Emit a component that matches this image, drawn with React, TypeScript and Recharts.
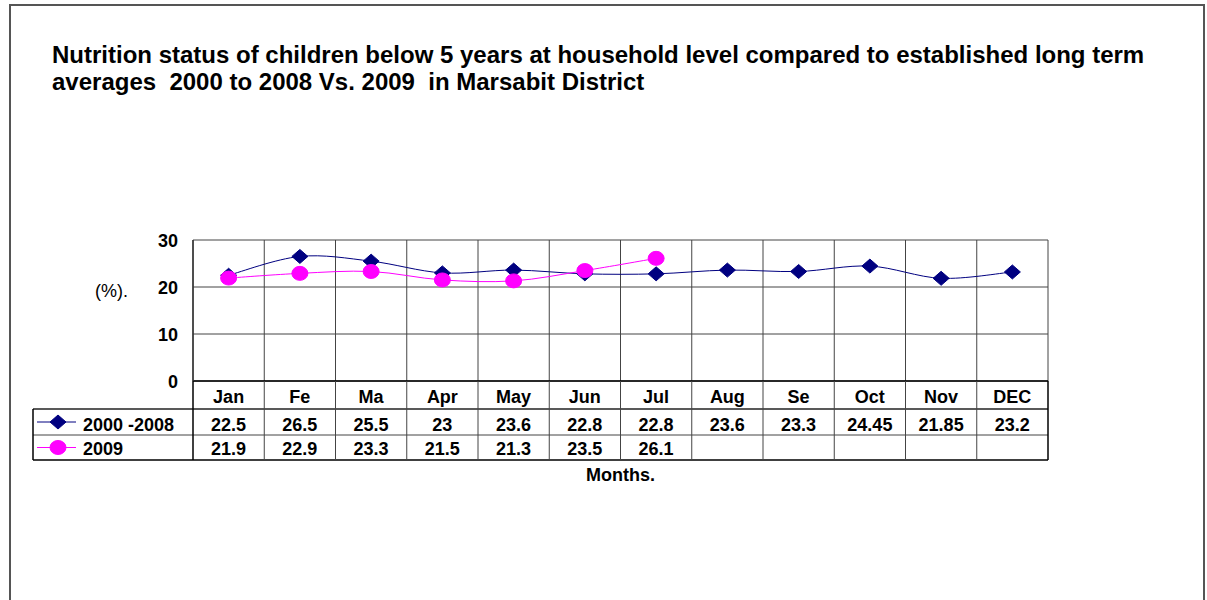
import React from 'react';
import { LineChart, Line, XAxis, YAxis, CartesianGrid } from 'recharts';

const MONTHS = ['Jan', 'Fe', 'Ma', 'Apr', 'May', 'Jun', 'Jul', 'Aug', 'Se', 'Oct', 'Nov', 'DEC'];
const AVG_2000_2008 = [22.5, 26.5, 25.5, 23, 23.6, 22.8, 22.8, 23.6, 23.3, 24.45, 21.85, 23.2];
const Y_2009: (number | null)[] = [21.9, 22.9, 23.3, 21.5, 21.3, 23.5, 26.1, null, null, null, null, null];
const Y_TICKS = [0, 10, 20, 30];
const SERIES_NAMES = ['2000 -2008', '2009'];

const data = MONTHS.map((m, i) => ({ month: m, avg: AVG_2000_2008[i], y2009: Y_2009[i] }));

const W = 1207;
const H = 600;
const PLOT_L = 193;
const PLOT_R = 1048;
const PLOT_T = 240;
const PLOT_B = 381;
const Y_AXIS_W = 60;
const TABLE_L = 33;
const ROW1_B = 409;
const ROW2_B = 435;
const TABLE_B = 460;
const NAVY = '#000080';
const PINK = '#FF00FF';
const GRID = '#444';
const FONT = 'Arial, "Liberation Sans", sans-serif';

function excelCurve(context: any) {
  let pts: [number, number][] = [];
  return {
    areaStart() {},
    areaEnd() {},
    lineStart() {
      pts = [];
    },
    lineEnd() {
      const n = pts.length;
      if (n === 0) return;
      context.moveTo(pts[0][0], pts[0][1]);
      if (n === 1) return;
      const t = 1 / 6;
      for (let i = 0; i < n - 1; i++) {
        const p0 = pts[Math.max(0, i - 1)];
        const p1 = pts[i];
        const p2 = pts[i + 1];
        const p3 = pts[Math.min(n - 1, i + 2)];
        context.bezierCurveTo(
          p1[0] + (p2[0] - p0[0]) * t,
          p1[1] + (p2[1] - p0[1]) * t,
          p2[0] - (p3[0] - p1[0]) * t,
          p2[1] - (p3[1] - p1[1]) * t,
          p2[0],
          p2[1]
        );
      }
    },
    point(x: number, y: number) {
      pts.push([+x, +y]);
    },
  };
}

const Diamond = ({ cx, cy }: { cx: number; cy: number }) => (
  <polygon points={`${cx},${cy - 7} ${cx + 8},${cy} ${cx},${cy + 7} ${cx - 8},${cy}`} fill={NAVY} stroke={NAVY} />
);
const Blob = ({ cx, cy }: { cx: number; cy: number }) => (
  <ellipse cx={cx} cy={cy} rx={8} ry={7} fill={PINK} stroke={PINK} />
);

const renderDiamondDot = (p: any) => {
  if (p.cx == null || p.cy == null || p.value == null) return <g key={`d${p.index}`} />;
  return <Diamond key={`d${p.index}`} cx={p.cx} cy={p.cy} />;
};
const renderBlobDot = (p: any) => {
  if (p.cx == null || p.cy == null || p.value == null) return <g key={`b${p.index}`} />;
  return <Blob key={`b${p.index}`} cx={p.cx} cy={p.cy} />;
};

const textStyle = { fontFamily: FONT, fontWeight: 700, fontSize: 18, fill: '#000' } as const;

const TableTick = (props: any) => {
  const { x, index } = props;
  const bw = (PLOT_R - PLOT_L) / MONTHS.length;
  const left = x - bw / 2;
  const right = x + bw / 2;
  const v1 = AVG_2000_2008[index];
  const v2 = Y_2009[index];
  return (
    <g>
      {index === 0 && (
        <g>
          <line x1={TABLE_L} x2={PLOT_R} y1={ROW1_B} y2={ROW1_B} stroke="#222" strokeWidth={1.5} />
          <line x1={TABLE_L} x2={PLOT_R} y1={ROW2_B} y2={ROW2_B} stroke={GRID} strokeWidth={1} />
          <line x1={TABLE_L} x2={PLOT_R} y1={TABLE_B} y2={TABLE_B} stroke="#000" strokeWidth={1.5} />
          <line x1={TABLE_L} x2={TABLE_L} y1={ROW1_B} y2={TABLE_B} stroke="#000" strokeWidth={1.5} />
          <line x1={37} x2={76} y1={(ROW1_B + ROW2_B) / 2} y2={(ROW1_B + ROW2_B) / 2} stroke={NAVY} strokeWidth={1} />
          <Diamond cx={58} cy={(ROW1_B + ROW2_B) / 2} />
          <text x={83} y={430.5} style={textStyle}>{SERIES_NAMES[0]}</text>
          <line x1={37} x2={76} y1={(ROW2_B + TABLE_B) / 2} y2={(ROW2_B + TABLE_B) / 2} stroke={PINK} strokeWidth={1} />
          <Blob cx={58} cy={(ROW2_B + TABLE_B) / 2} />
          <text x={83} y={455} style={textStyle}>{SERIES_NAMES[1]}</text>
        </g>
      )}
      <line x1={left} x2={left} y1={PLOT_B} y2={TABLE_B} stroke={index === 0 ? '#000' : GRID} strokeWidth={index === 0 ? 1.5 : 1} />
      {index === MONTHS.length - 1 && (
        <line x1={right} x2={right} y1={PLOT_B} y2={TABLE_B} stroke="#000" strokeWidth={1.5} />
      )}
      <text x={x} y={403} textAnchor="middle" style={textStyle}>{MONTHS[index]}</text>
      <text x={x} y={430.5} textAnchor="middle" style={textStyle}>{v1 != null ? String(v1) : ''}</text>
      <text x={x} y={455} textAnchor="middle" style={textStyle}>{v2 != null ? String(v2) : ''}</text>
    </g>
  );
};

export default function App() {
  return (
    <div style={{ position: 'absolute', left: 0, top: 0, width: W, height: H, overflow: 'hidden', background: '#fff' }}>
      <div
        style={{
          position: 'absolute',
          left: 9,
          top: 4,
          width: 1196,
          height: 700,
          boxSizing: 'border-box',
          border: '2px solid #555',
        }}
      />
      <div
        style={{
          position: 'absolute',
          left: 52,
          top: 41,
          fontFamily: FONT,
          fontWeight: 700,
          fontSize: 24,
          lineHeight: '27px',
          whiteSpace: 'nowrap',
          color: '#000',
        }}
      >
        Nutrition status of children below 5 years at household level compared to established long term
        <br />
        averages&nbsp; 2000 to 2008 Vs. 2009&nbsp; in Marsabit District
      </div>
      <div style={{ position: 'absolute', left: 0, top: 0 }}>
        <LineChart
          width={W}
          height={H}
          data={data}
          margin={{ top: PLOT_T, left: PLOT_L - Y_AXIS_W, right: W - PLOT_R, bottom: H - PLOT_B - 30 }}
        >
          <CartesianGrid
            stroke={GRID}
            strokeWidth={1}
            horizontalValues={Y_TICKS}
            verticalCoordinatesGenerator={({ offset }: any) =>
              MONTHS.map((_, i) => offset.left + (i * offset.width) / MONTHS.length).concat([offset.left + offset.width])
            }
          />
          <XAxis
            dataKey="month"
            scale="band"
            height={30}
            interval={0}
            axisLine={{ stroke: '#000', strokeWidth: 1.5 }}
            tickLine={false}
            tick={(p: any) => <TableTick {...p} />}
          />
          <YAxis
            width={Y_AXIS_W}
            domain={[0, 30]}
            ticks={Y_TICKS}
            interval={0}
            axisLine={{ stroke: '#333', strokeWidth: 1.5 }}
            tickLine={false}
            tickSize={0}
            tickMargin={15}
            tick={{ fontFamily: FONT, fontWeight: 700, fontSize: 18, fill: '#000', dy: 1 }}
          />
          <Line
            dataKey="avg"
            stroke={NAVY}
            strokeWidth={1}
            type={excelCurve as any}
            dot={renderDiamondDot}
            activeDot={false}
            isAnimationActive={false}
          />
          <Line
            dataKey="y2009"
            stroke={PINK}
            strokeWidth={1}
            type={excelCurve as any}
            dot={renderBlobDot}
            activeDot={false}
            isAnimationActive={false}
          />
        </LineChart>
      </div>
      <div
        style={{
          position: 'absolute',
          left: 95,
          top: 280.7,
          fontFamily: FONT,
          fontSize: 18,
          lineHeight: '20px',
          color: '#000',
          whiteSpace: 'nowrap',
        }}
      >
        (%).
      </div>
      <div
        style={{
          position: 'absolute',
          left: 520.5,
          width: 200,
          top: 465.4,
          textAlign: 'center',
          fontFamily: FONT,
          fontWeight: 700,
          fontSize: 18,
          lineHeight: '20px',
          color: '#000',
        }}
      >
        Months.
      </div>
    </div>
  );
}
